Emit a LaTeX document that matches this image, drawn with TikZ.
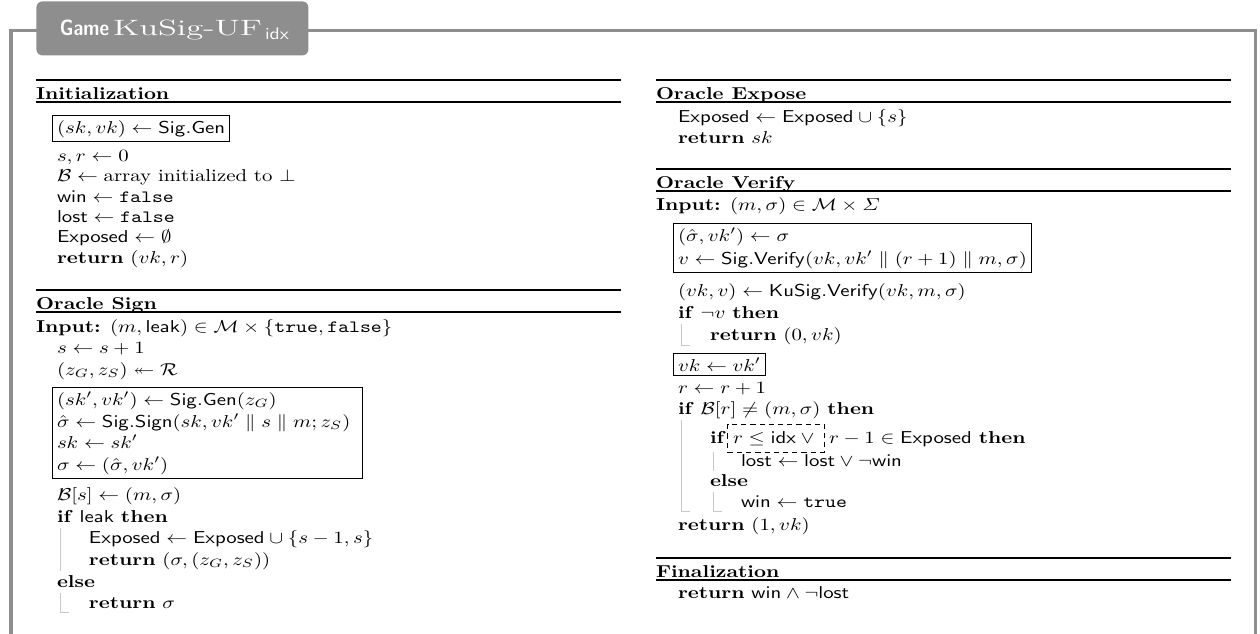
\documentclass[tikz,border=0pt]{standalone}
\usepackage{amsmath,amssymb}
\usepackage{graphicx}
\usetikzlibrary{fit,calc}
\definecolor{hdrgray}{RGB}{142,142,142}
\definecolor{vgray}{RGB}{200,200,200}
\tikzset{
  ln/.style={anchor=base west, inner sep=0pt, outer sep=0pt, xscale=1.04, yscale=0.86},
  hd/.style={anchor=base west, inner sep=0pt, outer sep=0pt, text=white},
  rthick/.style={line width=1.2pt},
  rthin/.style={line width=0.55pt},
  vbar/.style={draw=vgray, line width=0.5pt},
  sbox/.style={draw=black, line width=0.5pt, inner xsep=2.4pt, inner ysep=2.2pt, rectangle},
  dbox/.style={draw=black, line width=0.5pt, dash pattern=on 2.6pt off 2pt, inner xsep=2.6pt, inner ysep=3.4pt, rectangle},
  frameline/.style={draw=hdrgray, line width=1.6pt, line join=miter},
}
\begin{document}
\begin{tikzpicture}[x=0.5pt,y=-0.5pt]
\useasboundingbox (0,0) rectangle (1260,633);
% outer frame
\draw[frameline] (11,640) -- (11,30.5) -- (1255.5,30.5) -- (1255.5,640);
% header tab
\node[fill=hdrgray, rounded corners=3pt, inner sep=0pt, minimum width=136pt, minimum height=27pt, anchor=north west] (hdr) at (36,1) {};
\node[hd] (hgame) at (60,35) {\resizebox{24.5pt}{7.8pt}{\sffamily\bfseries Game}};
\node[hd] (hname) at (113,35) {\resizebox{74.5pt}{7.8pt}{\fontsize{12}{14}\selectfont KuSig-UF}};
\node[hd] (hidx) at (265,39.5) {\resizebox{12pt}{5.8pt}{\sffamily idx}};

% ---------------- left column ----------------
\draw[rthick] (36,80) -- (621,80);
\node[ln] (tinit) at (36,99) {\textbf{Initialization}};
\draw[rthin] (36,102) -- (621,102);
\node[ln] (i1) at (57,133) {$(sk,vk)\leftarrow\mathsf{Sig.Gen}$};
\node[sbox, fit=(i1)] (ibox) {};
\node[ln] (i2) at (57,161) {$s,r\leftarrow 0$};
\node[ln] (i3) at (57,181.5) {$\mathcal{B}\leftarrow{}$array initialized to $\bot$};
\node[ln] (i4) at (57,202) {$\mathsf{win}\leftarrow\mathtt{false}$};
\node[ln] (i5) at (57,222) {$\mathsf{lost}\leftarrow\mathtt{false}$};
\node[ln] (i6) at (57,242.5) {$\mathsf{Exposed}\leftarrow\emptyset$};
\node[ln] (i7) at (57,263) {\textbf{return} $(vk,r)$};

\draw[rthick] (36,290) -- (621,290);
\node[ln] (tsign) at (36,309) {\textbf{Oracle Sign}};
\draw[rthin] (36,312) -- (621,312);
\node[ln] (s0) at (36,332) {\textbf{Input:} $(m,\mathsf{leak})\in\mathcal{M}\times\{\mathtt{true},\mathtt{false}\}$};
\node[ln] (s1) at (57,353) {$s\leftarrow s+1$};
\node[ln] (s2) at (57,375) {$(z_G,z_S)\twoheadleftarrow\mathcal{R}$};
\node[ln] (s3) at (57,405) {$(sk',vk')\leftarrow\mathsf{Sig.Gen}(z_G)$};
\node[ln] (s4) at (57,427) {$\hat\sigma\leftarrow\mathsf{Sig.Sign}(sk,vk'\parallel s\parallel m;z_S)$};
\node[ln] (s5) at (57,448) {$sk\leftarrow sk'$};
\node[ln] (s6) at (57,470) {$\sigma\leftarrow(\hat\sigma,vk')$};
\coordinate (sright) at (358,440);
\node[sbox, fit=(s3)(s4)(s5)(s6)(sright)] (sbx) {};
\node[ln] (s7) at (57,500) {$\mathcal{B}[s]\leftarrow(m,\sigma)$};
\node[ln] (s8) at (57,522) {\textbf{if} $\mathsf{leak}$ \textbf{then}};
\node[ln] (s9) at (89,543) {$\mathsf{Exposed}\leftarrow\mathsf{Exposed}\cup\{s-1,s\}$};
\node[ln] (s10) at (89,565) {\textbf{return} $(\sigma,(z_G,z_S))$};
\node[ln] (s11) at (57,587) {\textbf{else}};
\node[ln] (s12) at (89,608) {\textbf{return} $\sigma$};
\draw[vbar] (60,528) -- (60,571);
\draw[vbar] (60,593) -- (60,612) -- (69,612);

% ---------------- right column ----------------
\draw[rthick] (656,80) -- (1231,80);
\node[ln] (texp) at (656,99) {\textbf{Oracle Expose}};
\draw[rthin] (656,102) -- (1231,102);
\node[ln] (e1) at (678,122) {$\mathsf{Exposed}\leftarrow\mathsf{Exposed}\cup\{s\}$};
\node[ln] (e2) at (678,143) {\textbf{return} $sk$};

\draw[rthick] (656,169) -- (1231,169);
\node[ln] (tver) at (656,188) {\textbf{Oracle Verify}};
\draw[rthin] (656,191) -- (1231,191);
\node[ln] (v0) at (656,210) {\textbf{Input:} $(m,\sigma)\in\mathcal{M}\times\varSigma$};
\node[ln] (v1) at (678,241) {$(\hat\sigma,vk')\leftarrow\sigma$};
\node[ln] (v2) at (678,264) {$v\leftarrow\mathsf{Sig.Verify}(vk,vk'\parallel(r+1)\parallel m,\sigma)$};
\node[sbox, fit=(v1)(v2)] (vbox1) {};
\node[ln] (v3) at (678,296) {$(vk,v)\leftarrow\mathsf{KuSig.Verify}(vk,m,\sigma)$};
\node[ln] (v4) at (678,318) {\textbf{if} $\neg v$ \textbf{then}};
\node[ln] (v5) at (710,340) {\textbf{return} $(0,vk)$};
\node[ln] (v6) at (678,371) {$vk\leftarrow vk'$};
\node[sbox, fit=(v6)] (vbox2) {};
\node[ln] (v7) at (678,393) {$r\leftarrow r+1$};
\node[ln] (v8) at (678,414) {\textbf{if} $\mathcal{B}[r]\neq(m,\sigma)$ \textbf{then}};
\node[ln] (v9) at (710,443) {\textbf{if}};
\node[ln] (v9d) at (733,443) {$r\leq\mathsf{idx}\vee{}$};
\node[dbox, fit=(v9d)] (vdash) {};
\node[ln] (v9r) at (829,443) {$r-1\in\mathsf{Exposed}$ \textbf{then}};
\node[ln] (v10) at (741,466) {$\mathsf{lost}\leftarrow\mathsf{lost}\vee\neg\mathsf{win}$};
\node[ln] (v11) at (710,486) {\textbf{else}};
\node[ln] (v12) at (741,507) {$\mathsf{win}\leftarrow\mathtt{true}$};
\node[ln] (v13) at (678,530) {\textbf{return} $(1,vk)$};
\draw[vbar] (681,324) -- (681,345) -- (690,345);
\draw[vbar] (681,420) -- (681,511) -- (690,511);
\draw[vbar] (713,452) -- (713,471);
\draw[vbar] (713,492) -- (713,511) -- (722,511);

\draw[rthick] (656,558) -- (1231,558);
\node[ln] (tfin) at (656,577) {\textbf{Finalization}};
\draw[rthin] (656,580) -- (1231,580);
\node[ln] (f1) at (678,598) {\textbf{return} $\mathsf{win}\wedge\neg\mathsf{lost}$};
\end{tikzpicture}
\end{document}
